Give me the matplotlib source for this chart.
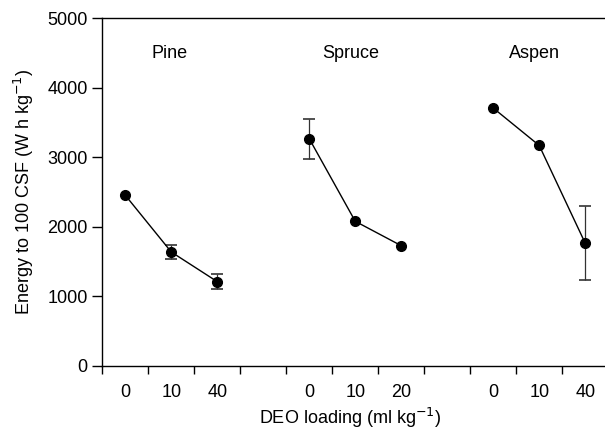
import numpy as np
import matplotlib
matplotlib.use('Agg')
import matplotlib.pyplot as plt

plt.rcParams['font.family'] = ['Liberation Sans', 'DejaVu Sans']

species = ['Pine', 'Spruce', 'Aspen']
loadings = [['0', '10', '40'], ['0', '10', '20'], ['0', '10', '40']]
energy = [[2454, 1637, 1210], [3268, 2079, 1728], [3710, 3171, 1764]]
errors = [[0, 105, 105], [290, 0, 0], [0, 0, 537]]
group_x = [[0.5, 1.5, 2.5], [4.5, 5.5, 6.5], [8.5, 9.5, 10.5]]
name_x = [1.46, 5.40, 9.40]

fig = plt.figure(figsize=(6.05, 4.37), dpi=100)
ax = fig.add_axes([0.1691, 0.1632, 1 - 0.1691, 0.9577 - 0.1632])

for i in range(3):
    ax.plot(group_x[i], energy[i], '-', color='black', lw=1.0, zorder=3)
    ax.plot(group_x[i], energy[i], 'o', color='black', ms=7, zorder=4)
    for x, y, e in zip(group_x[i], energy[i], errors[i]):
        if e > 0:
            ax.errorbar(x, y, yerr=e, fmt='none', ecolor='#333333', elinewidth=0.9,
                        capsize=4, capthick=1.2, zorder=2)
    ax.text(name_x[i], 4500, species[i], ha='center', va='center', fontsize=13)

ax.set_xlim(0, 10.93)
ax.set_ylim(0, 5000)
ax.set_yticks(np.arange(0, 5001, 1000))
ax.set_xticks(np.arange(0, 11))
ax.set_xticklabels([])
ax.set_xticks(sum(group_x, []), minor=True)
ax.set_xticklabels(sum(loadings, []), minor=True)
ax.tick_params(axis='x', which='major', direction='out', length=6, width=1)
ax.tick_params(axis='x', which='minor', length=0, pad=13, labelsize=13)
ax.tick_params(axis='y', direction='out', length=7, width=1, labelsize=13)
ax.spines['right'].set_visible(False)
for s in ['left', 'bottom', 'top']:
    ax.spines[s].set_linewidth(1.0)

ax.set_ylabel('Energy to 100 CSF (W h kg$^{-1}$)', fontsize=13, labelpad=8)
fig.text(350 / 605, 1 - 418 / 437, 'DEO loading (ml kg$^{-1}$)', ha='center', va='center', fontsize=13)

fig.savefig('out.png', dpi=100)
